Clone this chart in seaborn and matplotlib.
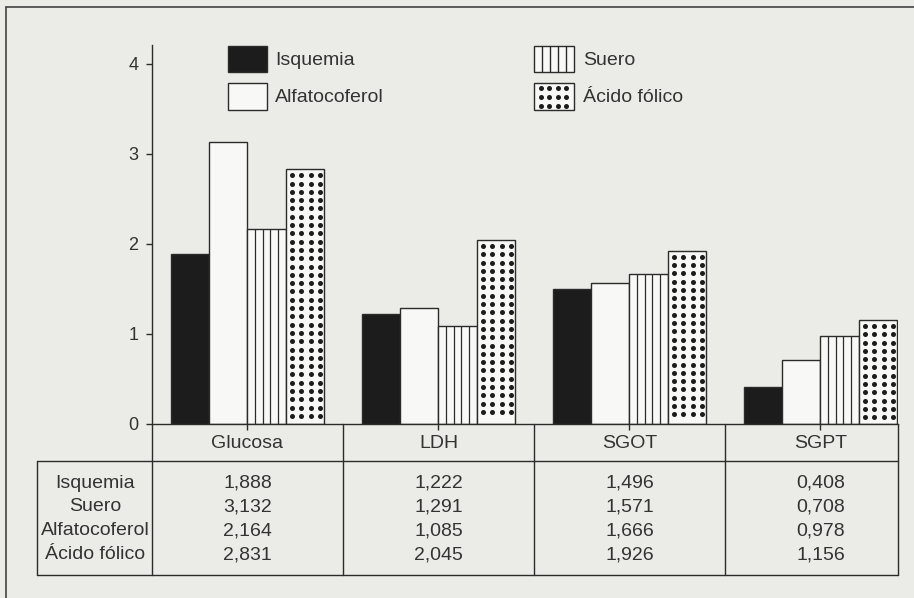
import numpy as np
import pandas as pd
import matplotlib
matplotlib.use("Agg")
import matplotlib.pyplot as plt
import matplotlib.transforms as mtransforms
from matplotlib.patches import Rectangle
from matplotlib.lines import Line2D
import seaborn as sns

# --- data -------------------------------------------------------------
pruebas = ["Glucosa", "LDH", "SGOT", "SGPT"]
grupos = ["Isquemia", "Suero", "Alfatocoferol", "Ácido fólico"]
isquemia = [1.888, 1.222, 1.496, 0.408]
suero = [3.132, 1.291, 1.571, 0.708]
alfatocoferol = [2.164, 1.085, 1.666, 0.978]
acido_folico = [2.831, 2.045, 1.926, 1.156]
leyenda = ["Isquemia", "Alfatocoferol", "Suero", "Ácido fólico"]
y_ticks = [0, 1, 2, 3, 4]

# --- look -------------------------------------------------------------
W, H, DPI = 914, 598, 100
PAPER = "#ebebe8"
INK = "#2b2b2b"
LIGHT = "#f8f8f6"
DARK = "#1c1c1c"
FS = 14

sns.set_theme(style="white")
plt.rcParams["font.family"] = ["Liberation Sans", "DejaVu Sans"]
plt.rcParams["text.color"] = "#333333"


def fx(x):
    return x / W


def fy(y):
    return 1 - y / H


df = pd.DataFrame({
    "prueba": pruebas * len(grupos),
    "grupo": np.repeat(grupos, len(pruebas)),
    "valor": isquemia + suero + alfatocoferol + acido_folico,
})

fig = plt.figure(figsize=(W / DPI, H / DPI), dpi=DPI, facecolor=PAPER)
ax = fig.add_axes([fx(152), fy(424), (898 - 152) / W, (424 - 45) / H])
ax.set_facecolor("none")

fills = {"Isquemia": DARK, "Suero": LIGHT, "Alfatocoferol": LIGHT, "Ácido fólico": LIGHT}
sns.barplot(data=df, x="prueba", y="valor", hue="grupo", order=pruebas,
            hue_order=grupos, palette=fills, saturation=1, width=0.8,
            edgecolor=INK, linewidth=1.0, errorbar=None, legend=False, ax=ax)

ax.set_xlim(-0.5, 3.406)
ax.set_ylim(0, 379 / 90)
ax.set_yticks(y_ticks)
ax.set_yticklabels([str(t) for t in y_ticks])
ax.set_xlabel("")
ax.set_ylabel("")
for s in ("top", "right"):
    ax.spines[s].set_visible(False)
for s in ("left", "bottom"):
    ax.spines[s].set_color(INK)
    ax.spines[s].set_linewidth(1.0)
ax.tick_params(axis="y", left=True, length=4.3, width=1, color=INK,
               labelsize=13, pad=5.5, labelcolor="#333333")
ax.tick_params(axis="x", bottom=True, length=4.3, width=1, color=INK,
               labelsize=FS, pad=3.5, labelcolor="#333333")

# vertical stripes on the third series
px_per_unit = 90.0
for bar in ax.containers[2]:
    x0, w, h = bar.get_x(), bar.get_width(), bar.get_height()
    ax.vlines([x0 + w * k / 5 for k in range(1, 5)], 0, h, color=INK, lw=0.9)

# dotted fill on the fourth series
dy = 8.3 / px_per_unit
for bar in ax.containers[3]:
    x0, w, h = bar.get_x(), bar.get_width(), bar.get_height()
    rows = np.arange(h - 6.0 / px_per_unit, 4.0 / px_per_unit, -dy)
    cols = [x0 + w * (k + 0.68) / 4.1 for k in range(4)]
    xx, yy = np.meshgrid(cols, rows)
    ax.scatter(xx.ravel(), yy.ravel(), s=13, color=DARK, linewidths=0, zorder=5)

# --- table under the axis ---------------------------------------------
fig_line = dict(transform=fig.transFigure, color=INK, lw=1.0)
blend = mtransforms.blended_transform_factory(ax.transData, fig.transFigure)
x_right = ax.get_xlim()[1]

fig.add_artist(Line2D([fx(152), fx(152)], [fy(424), fy(575)], **fig_line))
fig.add_artist(Line2D([fx(37), fx(898)], [fy(461), fy(461)], **fig_line))
fig.add_artist(Line2D([fx(37), fx(898)], [fy(575), fy(575)], **fig_line))
fig.add_artist(Line2D([fx(37), fx(37)], [fy(461), fy(575)], **fig_line))
for xd in [0.5, 1.5, 2.5, x_right]:
    fig.add_artist(Line2D([xd, xd], [fy(424), fy(575)], transform=blend,
                          color=INK, lw=1.0))

row_base = [488, 511, 535, 559]
series = [isquemia, suero, alfatocoferol, acido_folico]
for name, vals, yb in zip(grupos, series, row_base):
    fig.text(fx(95), fy(yb), name, ha="center", va="baseline", fontsize=FS)
    for i, v in enumerate(vals):
        ax.text(i, fy(yb), f"{v:.3f}".replace(".", ","), transform=blend,
                ha="center", va="baseline", fontsize=FS, clip_on=False)

# --- legend -----------------------------------------------------------
def legend_box(x0, y0, x1, y1, face):
    fig.add_artist(Rectangle((fx(x0), fy(y1)), (x1 - x0) / W, (y1 - y0) / H,
                             transform=fig.transFigure, facecolor=face,
                             edgecolor=INK, lw=1.0))

legend_box(228, 46, 267, 72, DARK)
legend_box(228, 83, 267, 110, LIGHT)
legend_box(534, 46, 574, 72, LIGHT)
legend_box(534, 83, 574, 110, LIGHT)
for k in range(1, 5):
    xs = 534 + 40 * k / 5
    fig.add_artist(Line2D([fx(xs), fx(xs)], [fy(46), fy(72)], **fig_line))
lx, ly = np.meshgrid([540.5, 549, 557.5, 566], [88, 97, 105.5])
fig.add_artist(Line2D(fx(lx.ravel()), fy(ly.ravel()), transform=fig.transFigure,
                      ls="none", marker="o", ms=3.6, color=DARK, mew=0))

fig.text(fx(275), fy(65), leyenda[0], ha="left", va="baseline", fontsize=FS)
fig.text(fx(275), fy(102), leyenda[1], ha="left", va="baseline", fontsize=FS)
fig.text(fx(583), fy(65), leyenda[2], ha="left", va="baseline", fontsize=FS)
fig.text(fx(583), fy(102), leyenda[3], ha="left", va="baseline", fontsize=FS)

# --- outer frame ------------------------------------------------------
fig.add_artist(Line2D([fx(6), fx(6)], [fy(7), fy(598)], transform=fig.transFigure,
                      color="#444444", lw=1.2))
fig.add_artist(Line2D([fx(6), fx(914)], [fy(7), fy(7)], transform=fig.transFigure,
                      color="#444444", lw=1.2))

fig.savefig("out.png", dpi=DPI, facecolor=PAPER)
